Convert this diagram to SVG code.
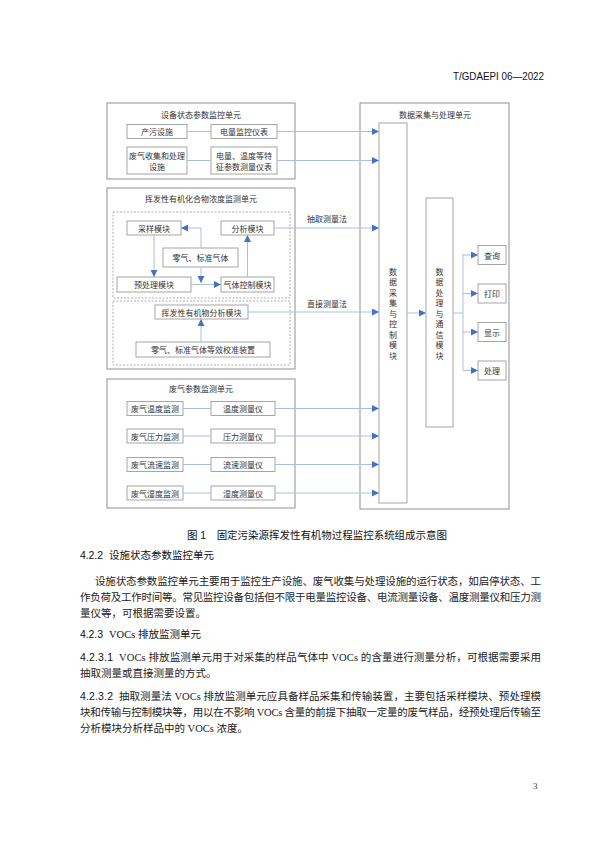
<svg xmlns="http://www.w3.org/2000/svg" width="600" height="848" viewBox="0 0 600 848">
<style>
.box{fill:#fff;stroke:#8f8f8f;stroke-width:0.8}
.unit{fill:none;stroke:#8f8f8f;stroke-width:1}
.dash{fill:none;stroke:#9a9a9a;stroke-width:0.8;stroke-dasharray:2 1.5}
.lbl{font-family:'Noto Sans CJK SC',sans-serif;font-size:8px;fill:#333;text-anchor:middle;dominant-baseline:central}
.conn{fill:none;stroke:#a9c0dc;stroke-width:1}
.arr{marker-end:url(#ah)}
.body{font-family:'Liberation Serif','Noto Sans CJK SC',serif;font-size:10.5px;fill:#222}
.hd{font-family:'Liberation Sans','Noto Sans CJK SC',sans-serif;font-size:10.5px;fill:#111}
</style>
<defs>
<marker id="ah" markerUnits="userSpaceOnUse" markerWidth="8" markerHeight="7" refX="7" refY="3.5" orient="auto">
<path d="M0,0 L7,3.5 L0,7 z" fill="#4472c4"/>
</marker>
</defs>
<rect width="600" height="848" fill="#fff"/>
<text x="544" y="80" text-anchor="end" font-family="'Liberation Sans',sans-serif" font-size="11" fill="#111" textLength="91" lengthAdjust="spacingAndGlyphs">T/GDAEPI 06—2022</text>

<!-- Unit 1 -->
<g id="unit-equipment">
<rect class="unit" x="107" y="103" width="188" height="76"/>
<text class="lbl" x="201" y="114">设备状态参数监控单元</text>
</g>
<g id="n-chanwu"><rect class="box" x="127" y="124.5" width="60" height="14"/><text class="lbl" x="157" y="131.5">产污设施</text></g>
<g id="n-dianliang"><rect class="box" x="211" y="124.5" width="66" height="14"/><text class="lbl" x="244" y="131.5">电量监控仪表</text></g>
<g id="n-feiqi"><rect class="box" x="127" y="147" width="60" height="27"/><text class="lbl" x="157" y="155">废气收集和处理</text><text class="lbl" x="157" y="166.5">设施</text></g>
<g id="n-tezheng"><rect class="box" x="211" y="147" width="66" height="27"/><text class="lbl" x="244" y="155">电量、温度等特</text><text class="lbl" x="244" y="166.5">征参数测量仪表</text></g>

<!-- Unit 2 -->
<g id="unit-voc">
<rect class="unit" x="107" y="188" width="188" height="181"/>
<text class="lbl" x="201" y="198.5">挥发性有机化合物浓度监测单元</text>
<rect class="dash" x="113" y="212" width="177" height="86"/>
<rect class="dash" x="113" y="301" width="177" height="64"/>
</g>
<g id="n-caiyang"><rect class="box" x="127" y="221" width="54" height="14"/><text class="lbl" x="154" y="228">采样模块</text></g>
<g id="n-fenxi"><rect class="box" x="221" y="221" width="53" height="14"/><text class="lbl" x="247.5" y="228">分析模块</text></g>
<g id="n-lingqi"><rect class="box" x="163" y="248" width="75" height="19"/><text class="lbl" x="200.5" y="257.5">零气、标准气体</text></g>
<g id="n-yuchuli"><rect class="box" x="117" y="277" width="74" height="15"/><text class="lbl" x="154" y="284.5">预处理模块</text></g>
<g id="n-qiti"><rect class="box" x="221" y="277" width="53" height="15"/><text class="lbl" x="247.5" y="284.5">气体控制模块</text></g>
<g id="n-vocfenxi"><rect class="box" x="155" y="305" width="93" height="14"/><text class="lbl" x="201.5" y="312">挥发性有机物分析模块</text></g>
<g id="n-jiaozhun"><rect class="box" x="136" y="342" width="134" height="15"/><text class="lbl" x="203" y="349.5">零气、标准气体等效校准装置</text></g>

<!-- Unit 3 -->
<g id="unit-gas">
<rect class="unit" x="107" y="379" width="188" height="129"/>
<text class="lbl" x="201" y="388.5">废气参数监测单元</text>
</g>
<g id="n-wendu-m"><rect class="box" x="127" y="401.5" width="56" height="14"/><text class="lbl" x="155" y="408.5">废气温度监测</text></g>
<g id="n-wendu-i"><rect class="box" x="211" y="401.5" width="64" height="14"/><text class="lbl" x="243" y="408.5">温度测量仪</text></g>
<g id="n-yali-m"><rect class="box" x="127" y="429" width="56" height="14"/><text class="lbl" x="155" y="436">废气压力监测</text></g>
<g id="n-yali-i"><rect class="box" x="211" y="429" width="64" height="14"/><text class="lbl" x="243" y="436">压力测量仪</text></g>
<g id="n-liusu-m"><rect class="box" x="127" y="457.5" width="56" height="14"/><text class="lbl" x="155" y="464.5">废气流速监测</text></g>
<g id="n-liusu-i"><rect class="box" x="211" y="457.5" width="64" height="14"/><text class="lbl" x="243" y="464.5">流速测量仪</text></g>
<g id="n-shidu-m"><rect class="box" x="127" y="486" width="56" height="14"/><text class="lbl" x="155" y="493">废气湿度监测</text></g>
<g id="n-shidu-i"><rect class="box" x="211" y="486" width="64" height="14"/><text class="lbl" x="243" y="493">湿度测量仪</text></g>

<!-- Data unit -->
<g id="unit-data">
<rect class="unit" x="360" y="103" width="149" height="406"/>
<text class="lbl" x="435" y="114">数据采集与处理单元</text>
</g>
<g id="n-daq">
<rect class="box" x="379" y="123" width="28" height="380"/>
<text class="lbl"><tspan x="393" y="270.5">数</tspan><tspan x="393" y="281">据</tspan><tspan x="393" y="291.5">采</tspan><tspan x="393" y="302">集</tspan><tspan x="393" y="312.5">与</tspan><tspan x="393" y="323">控</tspan><tspan x="393" y="333.5">制</tspan><tspan x="393" y="344">模</tspan><tspan x="393" y="354.5">块</tspan></text>
</g>
<g id="n-dp">
<rect class="box" x="426" y="198" width="27" height="229"/>
<text class="lbl"><tspan x="439.5" y="270.5">数</tspan><tspan x="439.5" y="281">据</tspan><tspan x="439.5" y="291.5">处</tspan><tspan x="439.5" y="302">理</tspan><tspan x="439.5" y="312.5">与</tspan><tspan x="439.5" y="323">通</tspan><tspan x="439.5" y="333.5">信</tspan><tspan x="439.5" y="344">模</tspan><tspan x="439.5" y="354.5">块</tspan></text>
</g>
<g id="n-chaxun"><rect class="box" x="478" y="245.5" width="28" height="19"/><text class="lbl" x="492" y="255">查询</text></g>
<g id="n-dayin"><rect class="box" x="478" y="284" width="28" height="19"/><text class="lbl" x="492" y="293.5">打印</text></g>
<g id="n-xianshi"><rect class="box" x="478" y="322.5" width="28" height="19"/><text class="lbl" x="492" y="332">显示</text></g>
<g id="n-chuli"><rect class="box" x="478" y="361" width="28" height="19"/><text class="lbl" x="492" y="370.5">处理</text></g>

<!-- connectors -->
<g id="connectors">
<line class="conn" x1="187" y1="131.5" x2="211" y2="131.5"/>
<path class="conn arr" d="M277,131.5 H379"/>
<line class="conn" x1="187" y1="160.5" x2="211" y2="160.5"/>
<path class="conn arr" d="M277,160.5 H379"/>
<path class="conn arr" d="M154,235 V277"/>
<path class="conn arr" d="M191,284.5 H221"/>
<path class="conn arr" d="M247.5,277 V235"/>
<path class="conn arr" d="M201,248 V228 H181"/>
<path class="conn arr" d="M201,267 V283"/>
<path class="conn arr" d="M201,342 V319"/>
<path class="conn arr" d="M274,228 H379"/>
<path class="conn arr" d="M248,312 H379"/>
<line class="conn" x1="183" y1="408.5" x2="211" y2="408.5"/>
<path class="conn arr" d="M275,408.5 H379"/>
<line class="conn" x1="183" y1="436" x2="211" y2="436"/>
<path class="conn arr" d="M275,436 H379"/>
<line class="conn" x1="183" y1="464.5" x2="211" y2="464.5"/>
<path class="conn arr" d="M275,464.5 H379"/>
<line class="conn" x1="183" y1="493" x2="211" y2="493"/>
<path class="conn arr" d="M275,493 H379"/>
<path class="conn arr" d="M407,313 H426"/>
<path class="conn" d="M453,313 H463 M463,254 V370.5"/>
<path class="conn arr" d="M463,255 H478"/>
<path class="conn arr" d="M463,293.5 H478"/>
<path class="conn arr" d="M463,332 H478"/>
<path class="conn arr" d="M463,370.5 H478"/>
<text class="lbl" x="327" y="218">抽取测量法</text>
<text class="lbl" x="327" y="303">直接测量法</text>
</g>

<!-- page text -->
<text class="hd" x="187" y="539" textLength="260" lengthAdjust="spacing">图 1　固定污染源挥发性有机物过程监控系统组成示意图</text>
<text class="hd" x="80" y="559"><tspan textLength="23" lengthAdjust="spacing">4.2.2</tspan><tspan x="109">设施状态参数监控单元</tspan></text>
<text class="body" x="95" y="585" textLength="446" lengthAdjust="spacing">设施状态参数监控单元主要用于监控生产设施、废气收集与处理设施的运行状态，如启停状态、工</text>
<text class="body" x="80" y="601" textLength="461" lengthAdjust="spacing">作负荷及工作时间等。常见监控设备包括但不限于电量监控设备、电流测量设备、温度测量仪和压力测</text>
<text class="body" x="80" y="617">量仪等，可根据需要设置。</text>
<text class="hd" x="80" y="638"><tspan textLength="23" lengthAdjust="spacing">4.2.3</tspan><tspan x="109" font-family="'Liberation Serif',serif">VOCs </tspan><tspan>排放监测单元</tspan></text>
<text class="hd" x="80" y="661" textLength="33" lengthAdjust="spacing">4.2.3.1</text>
<text class="body" x="119" y="661" textLength="422" lengthAdjust="spacing">VOCs 排放监测单元用于对采集的样品气体中 VOCs 的含量进行测量分析，可根据需要采用</text>
<text class="body" x="80" y="677">抽取测量或直接测量的方式。</text>
<text class="hd" x="80" y="700" textLength="33" lengthAdjust="spacing">4.2.3.2</text>
<text class="body" x="119" y="700" textLength="422" lengthAdjust="spacing">抽取测量法 VOCs 排放监测单元应具备样品采集和传输装置，主要包括采样模块、预处理模</text>
<text class="body" x="80" y="716" textLength="461" lengthAdjust="spacing">块和传输与控制模块等，用以在不影响 VOCs 含量的前提下抽取一定量的废气样品，经预处理后传输至</text>
<text class="body" x="80" y="732">分析模块分析样品中的 VOCs 浓度。</text>
<text x="533" y="789" font-family="'Liberation Serif',serif" font-size="9" fill="#333">3</text>
</svg>
